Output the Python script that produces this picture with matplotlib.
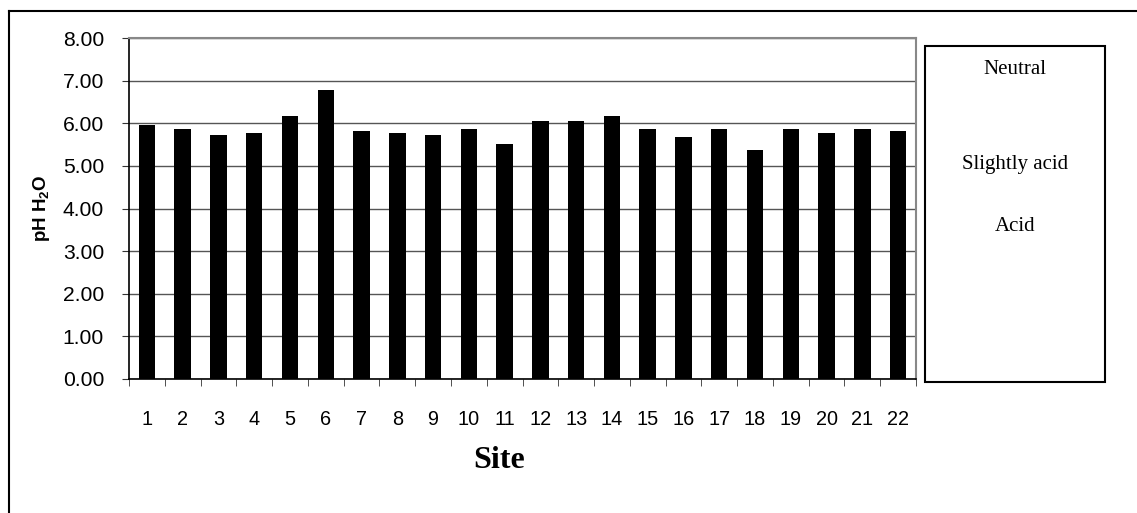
import numpy as np
import matplotlib.pyplot as plt
from matplotlib.patches import Rectangle

# pH readings per site
sites = [str(i) for i in range(1, 23)]
ph_h2o = [5.97, 5.87, 5.72, 5.76, 6.17, 6.77, 5.81, 5.76, 5.72, 5.87, 5.51,
          6.06, 6.06, 6.17, 5.87, 5.67, 5.87, 5.37, 5.87, 5.76, 5.87, 5.81]
yticks = [0, 1, 2, 3, 4, 5, 6, 7, 8]
classes = ['Neutral', 'Slightly acid', 'Acid']

plt.rcParams['mathtext.fontset'] = 'custom'
plt.rcParams['mathtext.bf'] = 'Liberation Sans:bold'
plt.rcParams['mathtext.rm'] = 'Liberation Sans:bold'

fig = plt.figure(figsize=(11.37, 5.13), dpi=100)
W, H = 1137., 513.

# outer chart frame (only left and top visible)
fig.add_artist(plt.Line2D([9/W, 9/W], [0, 1 - 11/H], color='black', lw=1.5,
                          transform=fig.transFigure))
fig.add_artist(plt.Line2D([9/W, 1], [1 - 11/H, 1 - 11/H], color='black', lw=1.5,
                          transform=fig.transFigure))

ax = fig.add_axes([129/W, 1 - 379/H, (916 - 129)/W, (379 - 38)/H])
x = np.arange(len(sites))
ax.bar(x, ph_h2o, width=0.46, color='black', zorder=3)
ax.set_xlim(-0.5, len(sites) - 0.5)
ax.set_ylim(0, 8)
ax.set_yticks(yticks)
ax.set_yticklabels(['%.2f' % v for v in yticks], fontsize=15.2,
                   family='Liberation Sans')
ax.set_xticks(x)
ax.set_xticklabels(sites, fontsize=14.3, family='Liberation Sans')
ax.set_xticks(np.arange(len(sites) + 1) - 0.5, minor=True)
ax.tick_params(axis='x', which='major', length=0, pad=22)
ax.tick_params(axis='x', which='minor', length=5, direction='out', color='#333333')
ax.tick_params(axis='y', length=5, direction='out', color='#333333', pad=13)
ax.grid(axis='y', color='#555555', lw=1, zorder=0)
for s in ['top', 'right']:
    ax.spines[s].set_color('#888888')
    ax.spines[s].set_linewidth(1.5)
for s in ['left', 'bottom']:
    ax.spines[s].set_color('black')
    ax.spines[s].set_linewidth(1.2)

fig.text(42/W, 1 - 208/H, r'pH H$_{\mathbf{2}}$O', rotation=90, fontsize=13.5,
         fontweight='bold', family='Liberation Sans', ha='center', va='center')
fig.text(499/W, 1 - 461/H, 'Site', fontsize=23, fontweight='bold',
         family='Liberation Serif', ha='center', va='center')

# legend box with pH classes
fig.add_artist(Rectangle((925/W, 1 - 382/H), 180/W, 336/H, fill=False,
                         edgecolor='black', lw=1.5, transform=fig.transFigure))
for label, yc in zip(classes, [70, 165, 227]):
    fig.text(1015/W, 1 - yc/H, label, fontsize=15, family='Liberation Serif',
             ha='center', va='center')

fig.savefig('out.png', dpi=100)
